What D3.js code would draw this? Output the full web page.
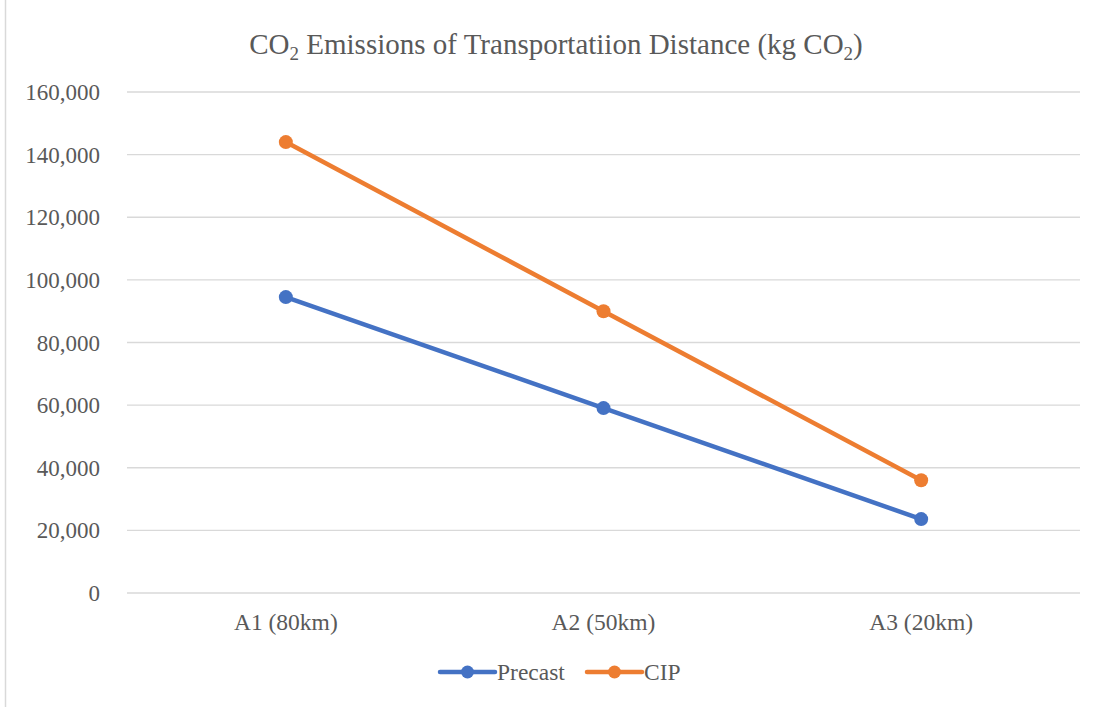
<!DOCTYPE html>
<html><head><meta charset="utf-8">
<script src="https://cdn.jsdelivr.net/npm/d3@7"></script>
<style>body{margin:0;background:#fff}svg{display:block}</style>
</head><body>
<svg id="c" width="1105" height="707"></svg>
<script>
const categories = ["A1 (80km)", "A2 (50km)", "A3 (20km)"];
const precast = [94500, 59050, 23600];
const cip = [144000, 90000, 36000];
const yTicks = [0, 20000, 40000, 60000, 80000, 100000, 120000, 140000, 160000];
const seriesNames = ["Precast", "CIP"];
const colors = ["#4472C4", "#ED7D31"];

const svg = d3.select("#c");
const W = 1105, H = 707;
const m = {left: 127, right: 1080, top: 92, bottom: 593};
const font = "'Liberation Serif', 'Times New Roman', serif";
const txt = "#595959";

svg.append("line").attr("x1", 5.5).attr("x2", 5.5).attr("y1", 0).attr("y2", H)
  .attr("stroke", "#d9d9d9").attr("stroke-width", 1.5);

const x = d3.scalePoint().domain(categories).range([m.left, m.right]).padding(0.5);
const y = d3.scaleLinear().domain([0, 160000]).range([m.bottom, m.top]);

// gridlines
svg.append("g").selectAll("line").data(yTicks).join("line")
  .attr("x1", m.left).attr("x2", m.right)
  .attr("y1", d => y(d)).attr("y2", d => y(d))
  .attr("stroke", "#d9d9d9").attr("stroke-width", 1.3);

// y labels
const fmt = d3.format(",");
svg.append("g").selectAll("text").data(yTicks).join("text")
  .attr("x", 100).attr("y", d => y(d)).attr("dy", "0.35em")
  .attr("text-anchor", "end").attr("font-family", font).attr("font-size", 23)
  .attr("fill", txt).text(d => fmt(d));

// x labels
svg.append("g").selectAll("text").data(categories).join("text")
  .attr("x", d => x(d)).attr("y", 630)
  .attr("text-anchor", "middle").attr("font-family", font).attr("font-size", 23.5)
  .attr("fill", txt).text(d => d);

// title
const t = svg.append("text").attr("x", 556).attr("y", 54).attr("text-anchor", "middle")
  .attr("font-family", font).attr("font-size", 29).attr("fill", txt);
t.append("tspan").text("CO");
t.append("tspan").attr("font-size", 19).attr("dy", 6).text("2");
t.append("tspan").attr("dy", -6).text(" Emissions of Transportatiion Distance (kg CO");
t.append("tspan").attr("font-size", 19).attr("dy", 6).text("2");
t.append("tspan").attr("dy", -6).text(")");

const data = [precast, cip];
const line = d3.line().x((d, i) => x(categories[i])).y(d => y(d));
data.forEach((s, k) => {
  svg.append("path").datum(s).attr("d", line).attr("fill", "none")
    .attr("stroke", colors[k]).attr("stroke-width", 4.5).attr("stroke-linecap", "round");
  svg.append("g").selectAll("circle").data(s).join("circle")
    .attr("cx", (d, i) => x(categories[i])).attr("cy", d => y(d)).attr("r", 7)
    .attr("fill", colors[k]);
});

// legend
const leg = [{x: 440, tx: 497}, {x: 587, tx: 644}];
seriesNames.forEach((n, k) => {
  const g = svg.append("g");
  g.append("line").attr("x1", leg[k].x).attr("x2", leg[k].x + 55).attr("y1", 672).attr("y2", 672)
    .attr("stroke", colors[k]).attr("stroke-width", 4.5).attr("stroke-linecap", "round");
  g.append("circle").attr("cx", leg[k].x + 27.5).attr("cy", 672).attr("r", 6.5).attr("fill", colors[k]);
  g.append("text").attr("x", leg[k].tx).attr("y", 672).attr("dy", "0.35em")
    .attr("font-family", font).attr("font-size", 23.5).attr("fill", txt).text(n);
});
</script>
</body></html>
